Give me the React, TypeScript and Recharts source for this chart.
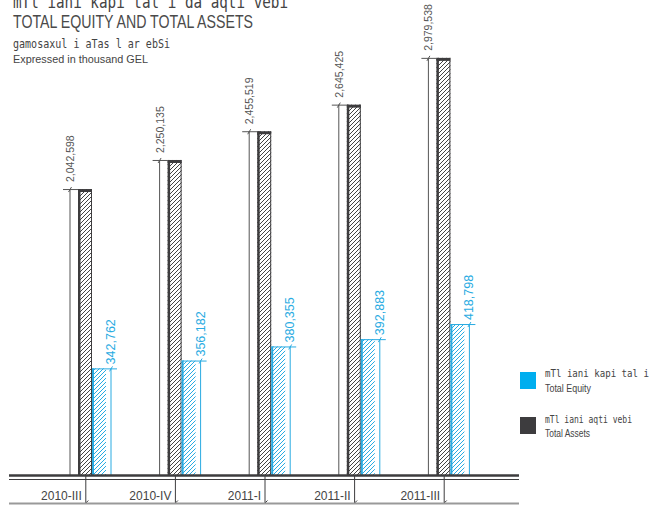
import { BarChart, Bar, XAxis, YAxis } from 'recharts'

const periods = ['2010-III', '2010-IV', '2011-I', '2011-II', '2011-III']
const totalAssets = [2042598, 2250135, 2455519, 2645425, 2979538]
const totalEquity = [342762, 356182, 380355, 392883, 418798]

const data = periods.map((p, i) => ({ period: p, assets: totalAssets[i], equity: totalEquity[i] }))

const DARK = '#3d3c3e'
const GREY = '#555'
const BLUE = '#29abe2'
const NUM_FONT = "'Liberation Sans', Arial, sans-serif"
const GEO_FONT = "'DejaVu Sans Mono', monospace"

const fmt = (v: number) => v.toLocaleString('en-US')

function AssetShape(props: any) {
  const { x, y, width, height, payload } = props
  const base = y + height
  const lx = x - 8
  return (
    <g>
      <rect x={x} y={y} width={width} height={height} fill="url(#hatchDark)" />
      <rect x={x} y={y} width={2.5} height={height} fill={DARK} />
      <rect x={x} y={y} width={width} height={3} fill={DARK} />
      <line x1={x + width - 0.5} x2={x + width - 0.5} y1={y} y2={base} stroke={DARK} />
      {/* dimension line */}
      <line x1={lx} x2={lx} y1={y} y2={base} stroke={GREY} />
      <line x1={lx - 7} x2={x} y1={y + 0.5} y2={y + 0.5} stroke={GREY} />
      <line x1={lx - 1.5} y1={y + 3} x2={lx + 1.5} y2={y - 2} stroke={GREY} />
      <text
        transform={`translate(${lx},${y - 7}) rotate(-90)`}
        textAnchor="start"
        dominantBaseline="central"
        fontSize={10.5}
        fontFamily={NUM_FONT}
        fill={GREY}
      >
        {fmt(payload.assets)}
      </text>
    </g>
  )
}

function EquityShape(props: any) {
  const { x, y, width, height, payload } = props
  const base = y + height
  const lx = x + width + 5
  return (
    <g>
      <rect x={x} y={y} width={width} height={height} fill="url(#hatchBlue)" />
      <rect x={x} y={y} width={2} height={height} fill={BLUE} />
      <line x1={x} x2={lx + 6} y1={y + 0.5} y2={y + 0.5} stroke={BLUE} />
      <line x1={lx} x2={lx} y1={y} y2={base} stroke={BLUE} />
      <line x1={lx - 1.5} y1={y + 3} x2={lx + 1.5} y2={y - 2} stroke={BLUE} />
      <text
        transform={`translate(${lx},${y - 4}) rotate(-90)`}
        textAnchor="start"
        dominantBaseline="central"
        fontSize={12.5}
        fontFamily={NUM_FONT}
        fill={BLUE}
      >
        {fmt(payload.equity)}
      </text>
    </g>
  )
}

function PeriodTick(props: any) {
  const { x, y, payload } = props
  const tx = x - 6
  return (
    <g>
      <line x1={tx} x2={tx} y1={y} y2={y + 28} stroke={DARK} />
      <line x1={tx} y1={y + 28} x2={tx + 2.5} y2={y + 25.5} stroke={DARK} />
      <text x={tx - 4} y={y + 25} textAnchor="end" fontSize={12} fontFamily={NUM_FONT} fill="#444">
        {payload.value}
      </text>
    </g>
  )
}

export default function App() {
  return (
    <div style={{ position: 'fixed', left: 0, top: 0, width: 658, height: 505, background: '#fff' }}>
      <BarChart
        width={658}
        height={505}
        data={data}
        margin={{ top: 55, right: 163, bottom: 0, left: 47 }}
        barGap={0}
        barSize={14}
      >
        <XAxis
          dataKey="period"
          height={30}
          axisLine={false}
          tickLine={false}
          tickSize={0}
          tickMargin={0}
          interval={0}
          tick={<PeriodTick />}
        />
        <YAxis yAxisId="assets" hide domain={[0, 3000000]} />
        {/* equity is drawn on its own exaggerated scale, as in the source */}
        <YAxis yAxisId="equity" orientation="right" hide domain={[160000, 880000]} allowDataOverflow />
        <Bar yAxisId="assets" dataKey="assets" shape={<AssetShape />} isAnimationActive={false} />
        <Bar yAxisId="equity" dataKey="equity" shape={<EquityShape />} isAnimationActive={false} />
      </BarChart>

      <svg width={658} height={505} style={{ position: 'absolute', left: 0, top: 0, pointerEvents: 'none' }}>
        <defs>
          <pattern id="hatchDark" patternUnits="userSpaceOnUse" width={4} height={4}>
            <rect width={4} height={4} fill="#fff" />
            <path d="M-1,1 l2,-2 M0,4 l4,-4 M3,5 l2,-2" stroke="#444" strokeWidth={1} />
          </pattern>
          <pattern id="hatchBlue" patternUnits="userSpaceOnUse" width={4} height={4}>
            <rect width={4} height={4} fill="#fff" />
            <path d="M-1,1 l2,-2 M0,4 l4,-4 M3,5 l2,-2" stroke={BLUE} strokeWidth={1} />
          </pattern>
        </defs>

        {/* titles */}
        <text x={13} y={8} fontSize={17} fontFamily={GEO_FONT} fill="#444" textLength={275} lengthAdjust="spacingAndGlyphs">
          mTl iani kapi tal i da aqti vebi
        </text>
        <text x={13} y={28} fontSize={18} fontFamily={NUM_FONT} fill="#4a4a4a" textLength={240} lengthAdjust="spacingAndGlyphs">
          TOTAL EQUITY AND TOTAL ASSETS
        </text>
        <text x={13} y={48} fontSize={11.5} fontFamily={GEO_FONT} fill="#444" textLength={157} lengthAdjust="spacingAndGlyphs">
          gamosaxul i aTas l ar ebSi
        </text>
        <text x={13} y={63} fontSize={11} fontFamily={NUM_FONT} fill="#444" textLength={135} lengthAdjust="spacingAndGlyphs">
          Expressed in thousand GEL
        </text>

        {/* baseline */}
        <line x1={9} x2={519} y1={475.5} y2={475.5} stroke={DARK} strokeWidth={2.5} />
        <line x1={9} x2={519} y1={479.5} y2={479.5} stroke={DARK} strokeWidth={1} />
        <line x1={9} x2={519} y1={503.5} y2={503.5} stroke="#999" strokeWidth={2} />

        {/* legend */}
        <rect x={520} y={372} width={16} height={17} fill="#00aeef" />
        <text x={545} y={377} fontSize={11} fontFamily={GEO_FONT} fill="#444" textLength={104} lengthAdjust="spacingAndGlyphs">
          mTl iani kapi tal i
        </text>
        <text x={545} y={392} fontSize={11} fontFamily={NUM_FONT} fill="#444" textLength={46} lengthAdjust="spacingAndGlyphs">
          Total Equity
        </text>
        <rect x={520} y={417} width={16} height={17} fill={DARK} />
        <text x={545} y={423} fontSize={11} fontFamily={GEO_FONT} fill="#444" textLength={87} lengthAdjust="spacingAndGlyphs">
          mTl iani aqti vebi
        </text>
        <text x={545} y={437} fontSize={11} fontFamily={NUM_FONT} fill="#444" textLength={45} lengthAdjust="spacingAndGlyphs">
          Total Assets
        </text>
      </svg>
    </div>
  )
}
